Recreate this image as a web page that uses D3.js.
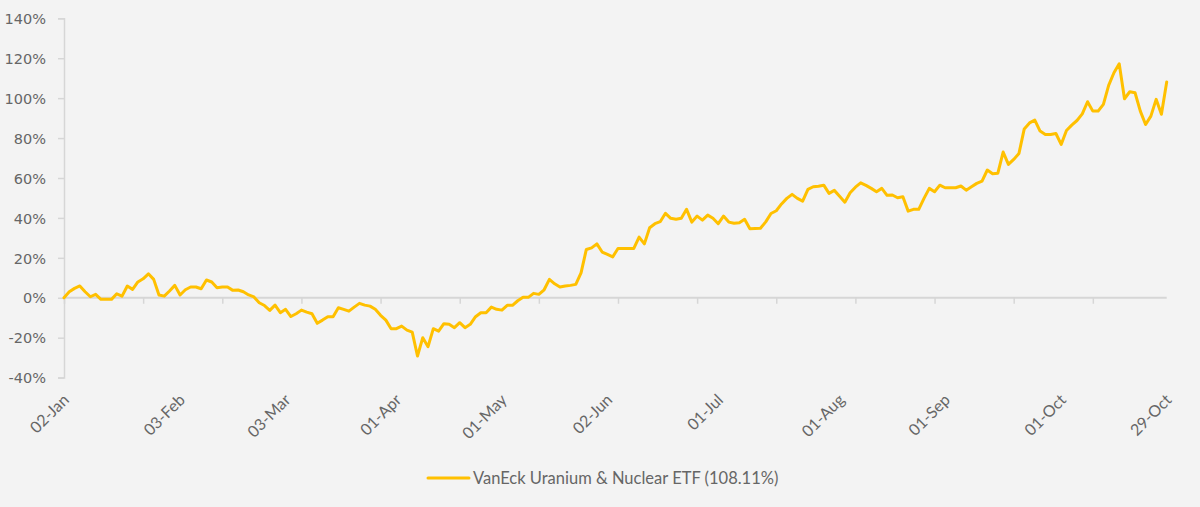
<!DOCTYPE html>
<html>
<head>
<meta charset="utf-8">
<script src="https://cdn.jsdelivr.net/npm/d3@7"></script>
<style>
  html, body { margin: 0; padding: 0; background: #f3f3f3; }
  svg { display: block; }
</style>
</head>
<body>
<svg id="chart" width="1200" height="507"></svg>
<script>
// Daily cumulative return (%) by trading day, 02-Jan to 29-Oct
const seriesName = "VanEck Uranium & Nuclear ETF (108.11%)";
const values = [
  0, 3.0, 4.7, 5.9, 3.0, 0.5, 1.7, -0.8, -0.8, -0.8,
  2.0, 0.8, 5.9, 4.2, 7.9, 9.5, 12.0, 9.2, 1.4, 0.8,
  3.4, 6.2, 1.4, 4.0, 5.4, 5.4, 4.5, 8.9, 7.9, 5.0,
  5.4, 5.4, 3.7, 3.9, 3.0, 1.4, 0.4, -2.5, -3.9, -6.3,
  -3.7, -7.5, -5.8, -9.4, -8.0, -6.2, -7.2, -8.0, -12.8, -11.2,
  -9.5, -9.5, -5.0, -5.8, -6.7, -4.7, -2.8, -3.7, -4.2, -5.8,
  -8.8, -11.2, -15.5, -15.5, -14.2, -16.2, -17.2, -29.2, -20.0, -24.5,
  -15.5, -16.7, -13.0, -13.3, -15.0, -12.5, -15.0, -13.3, -9.5, -7.5,
  -7.5, -4.7, -5.8, -6.2, -3.8, -3.8, -1.5, 0.2, 0.2, 2.2,
  1.7, 4.0, 9.2, 7.0, 5.4, 5.9, 6.2, 6.7, 12.5, 24.2,
  25.0, 27.0, 22.9, 21.7, 20.5, 24.7, 24.7, 24.7, 24.7, 30.4,
  27.0, 35.1, 37.1, 38.1, 42.3, 39.8, 39.3, 39.8, 44.3, 37.9,
  40.9, 38.9, 41.4, 39.8, 37.1, 40.9, 37.9, 37.3, 37.6, 39.3,
  34.6, 34.7, 34.8, 38.0, 42.2, 43.6, 47.0, 49.8, 51.8, 49.8,
  48.4, 54.3, 55.6, 55.9, 56.4, 52.3, 53.8, 50.9, 47.9, 52.6,
  55.4, 57.6, 56.3, 54.8, 53.1, 54.8, 51.3, 51.5, 50.1, 50.6,
  43.4, 44.3, 44.3, 49.8, 54.8, 53.1, 56.4, 55.1, 55.1, 55.1,
  56.0, 53.9, 55.6, 57.3, 58.4, 64.0, 62.1, 62.4, 73.0, 66.8,
  69.3, 72.3, 84.6, 87.6, 89.0, 83.5, 81.8, 81.8, 82.3, 76.8,
  83.8, 86.5, 88.8, 92.1, 98.2, 93.5, 93.5, 96.9, 106.4, 112.7,
  117.2, 99.7, 103.2, 102.7, 93.5, 86.8, 91.0, 99.4, 91.9, 108.11
];
// Category labels shown on the x axis (trading-day index -> date text)
const labelIndex = [0, 22, 42, 63, 83, 103, 124, 147, 167, 189, 209];
const labelText  = ["02-Jan", "03-Feb", "03-Mar", "01-Apr", "01-May", "02-Jun",
                    "01-Jul", "01-Aug", "01-Sep", "01-Oct", "29-Oct"];
const yTicks = [-40, -20, 0, 20, 40, 60, 80, 100, 120, 140];
const tickEvery = 15;

const svg = d3.select("#chart");
const W = 1200, H = 507;
svg.append("rect").attr("width", W).attr("height", H).attr("fill", "#f3f3f3");

const n = values.length;
const x = d3.scaleLinear().domain([0, n - 1]).range([64, 1166.7]);
const y = d3.scaleLinear().domain([-40, 140]).range([377.6, 18.3]);

const axisColor = "#d6d6d6";
const textColor = "#666666";
const font = "Lato, 'Open Sans', sans-serif";

// Y axis
const yAxis = d3.axisLeft(y).tickValues(yTicks).tickSize(6).tickPadding(12)
  .tickFormat(d => d + "%");
const gy = svg.append("g").attr("transform", "translate(64,0)").call(yAxis);
gy.select(".domain").attr("stroke", axisColor).attr("stroke-width", 1.5);
gy.selectAll(".tick line").attr("stroke", axisColor).attr("stroke-width", 1.5);
gy.selectAll(".tick text").attr("fill", textColor).attr("font-family", "'DejaVu Sans', sans-serif")
  .attr("font-size", 14.5).attr("dy", "0.36em");

// X axis at 0%
const tickIdx = d3.range(0, n, tickEvery);
const xAxis = d3.axisBottom(x).tickValues(tickIdx).tickSize(6).tickFormat("");
const gx = svg.append("g").attr("transform", `translate(0,${y(0)})`).call(xAxis);
gx.select(".domain").attr("stroke", axisColor).attr("stroke-width", 2)
  .attr("d", `M${x(0)},0H${x(n - 1)}`);
gx.selectAll(".tick line").attr("stroke", axisColor).attr("stroke-width", 1.5);

// X labels (rotated)
svg.append("g").selectAll("text").data(labelIndex).join("text")
  .attr("transform", (d) => `translate(${x(d) + 2},397) rotate(-45)`)
  .attr("text-anchor", "end")
  .attr("dy", "0.35em")
  .attr("fill", textColor)
  .attr("font-family", font)
  .attr("font-size", 16)
  .text((d, i) => labelText[i]);

// Line
const line = d3.line().x((d, i) => x(i)).y(d => y(d)).curve(d3.curveLinear);
svg.append("path").datum(values).attr("d", line)
  .attr("fill", "none").attr("stroke", "#ffc000").attr("stroke-width", 3)
  .attr("stroke-linejoin", "round").attr("stroke-linecap", "round");

// Legend
const lg = svg.append("g").attr("transform", "translate(0,478)");
lg.append("line").attr("x1", 428).attr("x2", 469).attr("y1", 0).attr("y2", 0)
  .attr("stroke", "#ffc000").attr("stroke-width", 3).attr("stroke-linecap", "round");
lg.append("text").attr("x", 473).attr("y", 0).attr("dy", "0.35em")
  .attr("fill", textColor).attr("font-family", font).attr("font-size", 16.5)
  .text(seriesName);
</script>
</body>
</html>
